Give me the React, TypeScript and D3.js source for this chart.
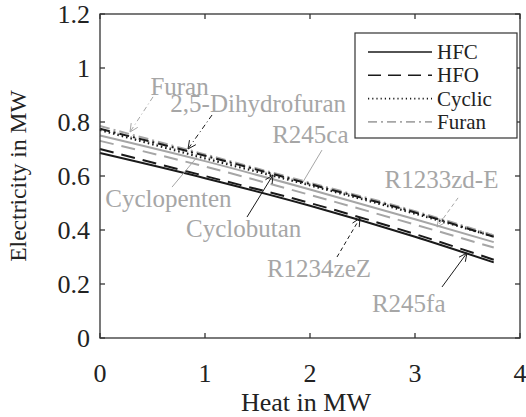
import { useEffect, useRef } from "react";
import * as d3 from "d3";

// heat values where the curves were read
const heat = [0, 1, 2, 3, 3.75];

const r245fa = [0.685, 0.592, 0.49, 0.375, 0.28];
const r245ca = [0.75, 0.655, 0.55, 0.44, 0.355];
const r1234zeZ = [0.7, 0.6, 0.5, 0.385, 0.29];
const r1233zdE = [0.73, 0.635, 0.53, 0.42, 0.335];
const cyclobutan = [0.77, 0.665, 0.565, 0.46, 0.375];
const cyclopenten = [0.775, 0.67, 0.57, 0.465, 0.38];
const dihydrofuran = [0.775, 0.675, 0.57, 0.465, 0.375];
const furan = [0.785, 0.68, 0.575, 0.47, 0.38];

const xTicks = [0, 1, 2, 3, 4];
const yTicks = [0, 0.2, 0.4, 0.6, 0.8, 1, 1.2];

const legendNames = ["HFC", "HFO", "Cyclic", "Furan"];

// label text, label anchor (x, y), leader start, leader tip — in data units
const annoNames = ["Furan", "2,5-Dihydrofuran", "R245ca", "Cyclopenten", "Cyclobutan", "R1233zd-E", "R1234zeZ", "R245fa"];
const annoText = [[0.48, 0.9], [0.67, 0.836], [1.64, 0.723], [0.05, 0.487], [0.82, 0.375], [2.71, 0.555], [1.59, 0.226], [2.59, 0.096]];
const annoFrom = [[0.505, 0.893], [1.067, 0.826], [2.114, 0.696], [0.686, 0.559], [1.4, 0.448], [3.41, 0.519], [2.257, 0.3], [3.257, 0.189]];
const annoTip = [[0.286, 0.763], [0.838, 0.7], [1.933, 0.578], [0.924, 0.67], [1.648, 0.604], [3.21, 0.411], [2.476, 0.444], [3.495, 0.315]];

const BLACK = "#1a1a1a";
const GRAY = "#a6a6a6";
const SOLID = "none";
const DASH = "14,8";
const DOT = "1.5,3";
const DASHDOT = "10,4,2,4";
const FONT = "Liberation Serif";

const series = [
  { values: r245fa, color: BLACK, dash: SOLID, w: 2 },
  { values: r245ca, color: GRAY, dash: SOLID, w: 2 },
  { values: r1234zeZ, color: BLACK, dash: DASH, w: 2 },
  { values: r1233zdE, color: GRAY, dash: DASH, w: 2 },
  { values: cyclopenten, color: GRAY, dash: DOT, w: 2 },
  { values: cyclobutan, color: BLACK, dash: DOT, w: 2 },
  { values: furan, color: GRAY, dash: DASHDOT, w: 2 },
  { values: dihydrofuran, color: BLACK, dash: DASHDOT, w: 2 },
];

const legendStyle = [
  { color: BLACK, dash: SOLID },
  { color: BLACK, dash: "13,7" },
  { color: BLACK, dash: "1.2,3" },
  { color: GRAY, dash: "9,4,2,4" },
];

// leader line style per annotation
const annoStyle = [
  { color: GRAY, dash: "5,3,1,3", arrow: true },
  { color: BLACK, dash: "5,3,1,3", arrow: true },
  { color: GRAY, dash: SOLID, arrow: false },
  { color: GRAY, dash: SOLID, arrow: false },
  { color: BLACK, dash: SOLID, arrow: true },
  { color: GRAY, dash: "4,3", arrow: true },
  { color: BLACK, dash: "4,3", arrow: true },
  { color: BLACK, dash: SOLID, arrow: true },
];

const App = () => {
  const svgRef = useRef<SVGSVGElement>(null);

  useEffect(() => {
    if (!svgRef.current) return;
    document.body.style.margin = "0";
    const svg = d3.select(svgRef.current);
    svg.selectAll("*").remove();

    const width = 526;
    const height = 417;
    const left = 100, right = 520, top = 14, bottom = 338;

    const x = d3.scaleLinear().domain([0, 4]).range([left, right]);
    const y = d3.scaleLinear().domain([0, 1.2]).range([bottom, top]);

    svg.attr("width", width).attr("height", height).attr("font-family", FONT);

    svg.append("rect").attr("width", width).attr("height", height).attr("fill", "white");

    // curves
    const line = d3.line<number>()
      .x((_, i) => x(heat[i]))
      .y(d => y(d))
      .curve(d3.curveMonotoneX);

    svg.append("g").selectAll("path")
      .data(series)
      .join("path")
      .attr("d", d => line(d.values))
      .attr("fill", "none")
      .attr("stroke", d => d.color)
      .attr("stroke-width", d => d.w)
      .attr("stroke-dasharray", d => d.dash);

    // annotations
    const ag = svg.append("g");
    annoNames.forEach((name, i) => {
      const st = annoStyle[i];
      const [fx, fy] = annoFrom[i];
      const [tx, ty] = annoTip[i];
      const x1 = x(fx), y1 = y(fy), x2 = x(tx), y2 = y(ty);
      ag.append("line")
        .attr("x1", x1).attr("y1", y1).attr("x2", x2).attr("y2", y2)
        .attr("stroke", st.color).attr("stroke-width", 1)
        .attr("stroke-dasharray", st.dash);
      if (st.arrow) {
        const ang = Math.atan2(y1 - y2, x1 - x2);
        const len = 9, spread = 0.45;
        const p = d3.path();
        p.moveTo(x2 + len * Math.cos(ang - spread), y2 + len * Math.sin(ang - spread));
        p.lineTo(x2, y2);
        p.lineTo(x2 + len * Math.cos(ang + spread), y2 + len * Math.sin(ang + spread));
        ag.append("path").attr("d", p.toString())
          .attr("fill", "none").attr("stroke", st.color).attr("stroke-width", 1);
      }
      ag.append("text")
        .attr("x", x(annoText[i][0])).attr("y", y(annoText[i][1]))
        .attr("fill", GRAY).attr("font-size", 25).attr("font-family", FONT)
        .text(name);
    });

    // frame and ticks
    const frame = svg.append("g").attr("stroke", "#333").attr("stroke-width", 1.3);
    frame.append("rect")
      .attr("x", left).attr("y", top).attr("width", right - left).attr("height", bottom - top)
      .attr("fill", "none");
    const tl = 5;
    xTicks.forEach(t => {
      frame.append("line").attr("x1", x(t)).attr("x2", x(t)).attr("y1", bottom).attr("y2", bottom - tl);
      frame.append("line").attr("x1", x(t)).attr("x2", x(t)).attr("y1", top).attr("y2", top + tl);
    });
    yTicks.forEach(t => {
      frame.append("line").attr("x1", left).attr("x2", left + tl).attr("y1", y(t)).attr("y2", y(t));
      frame.append("line").attr("x1", right).attr("x2", right - tl).attr("y1", y(t)).attr("y2", y(t));
    });

    const fmt = (v: number) => String(+v.toFixed(1));

    svg.append("g").selectAll("text")
      .data(xTicks).join("text")
      .attr("x", d => x(d)).attr("y", 382)
      .attr("text-anchor", "middle").attr("font-size", 26).attr("fill", "#222")
      .attr("font-family", FONT)
      .text(fmt);

    svg.append("g").selectAll("text")
      .data(yTicks).join("text")
      .attr("x", 90).attr("y", d => y(d) + 9)
      .attr("text-anchor", "end").attr("font-size", 26).attr("fill", "#222")
      .attr("font-family", FONT)
      .text(fmt);

    svg.append("text")
      .attr("x", (left + right) / 2 - 4).attr("y", 411)
      .attr("text-anchor", "middle").attr("font-size", 26).attr("fill", "#222")
      .attr("font-family", FONT)
      .text("Heat in MW");

    svg.append("text")
      .attr("transform", `translate(26,${(top + bottom) / 2}) rotate(-90)`)
      .attr("text-anchor", "middle").attr("font-size", 23.6).attr("fill", "#222")
      .attr("font-family", FONT)
      .text("Electricity in MW");

    // legend
    const lg = svg.append("g");
    lg.append("rect")
      .attr("x", 355).attr("y", 33).attr("width", 162).attr("height", 105)
      .attr("fill", "white").attr("stroke", "#333").attr("stroke-width", 1.2);
    legendNames.forEach((name, i) => {
      const cy = 52 + i * 23.3;
      lg.append("line")
        .attr("x1", 368).attr("x2", 432).attr("y1", cy).attr("y2", cy)
        .attr("stroke", legendStyle[i].color).attr("stroke-width", 1.6)
        .attr("stroke-dasharray", legendStyle[i].dash);
      lg.append("text")
        .attr("x", 437).attr("y", cy + 7)
        .attr("font-size", 21).attr("fill", "#222").attr("font-family", FONT)
        .text(name);
    });
  }, []);

  return <svg ref={svgRef} style={{ display: "block" }}></svg>;
};

export default App;
